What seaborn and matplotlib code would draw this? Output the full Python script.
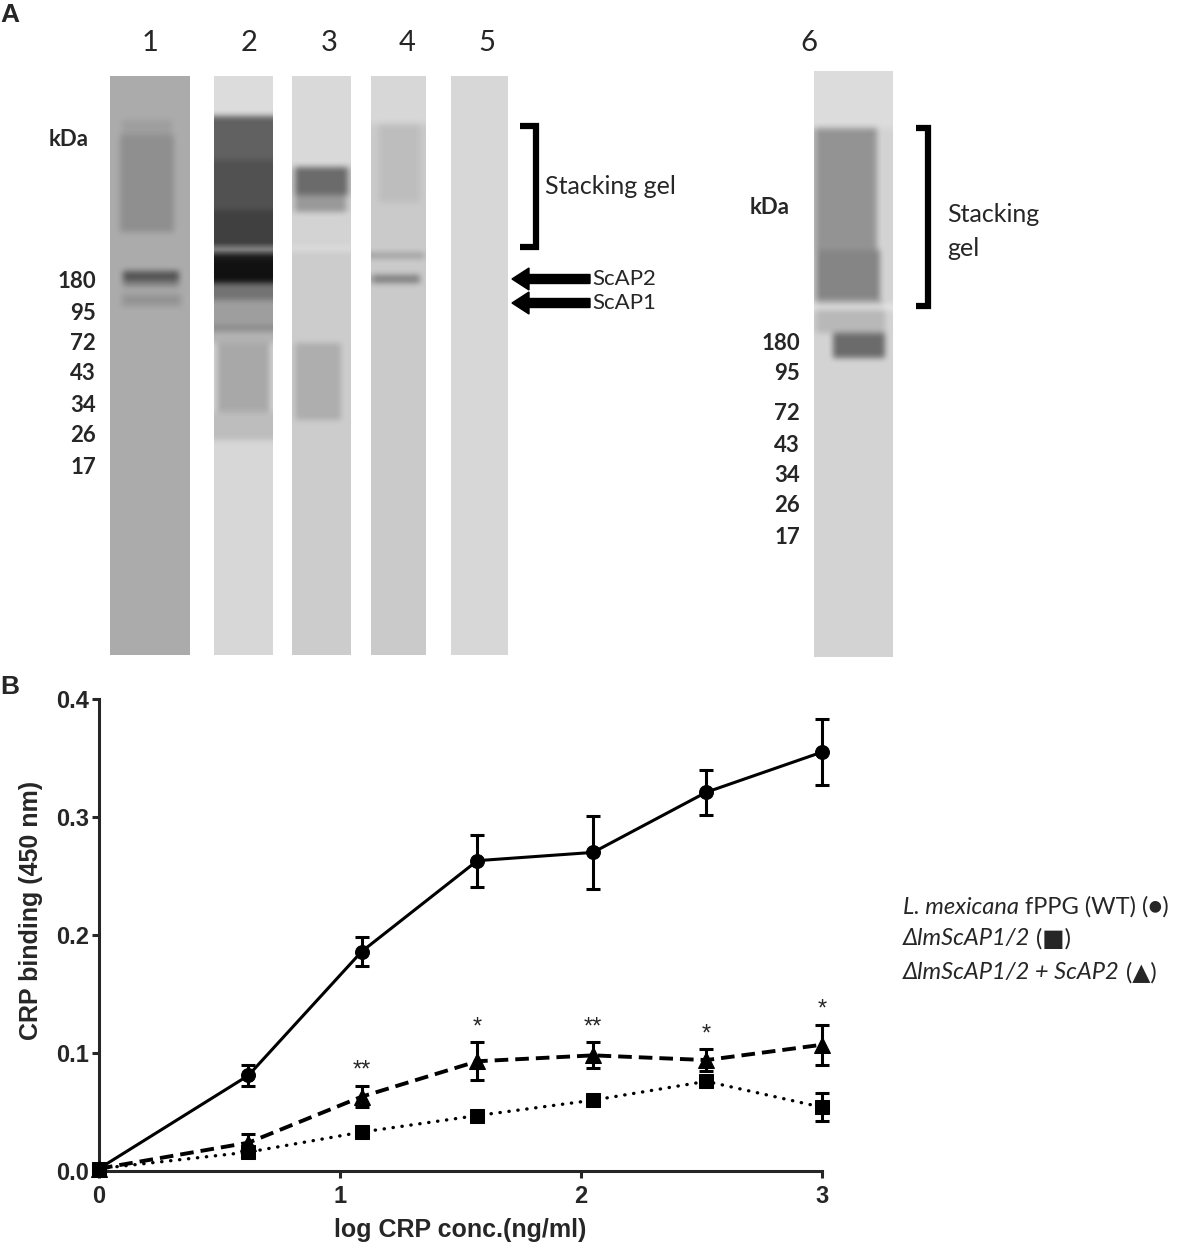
import numpy as np
import pandas as pd
import matplotlib
matplotlib.use("Agg")
import matplotlib.pyplot as plt
import seaborn as sns

# ---- panel B data ----
log_conc = [0, 0.62, 1.09, 1.57, 2.05, 2.52, 3.0]
wt_mean = [0.002, 0.081, 0.186, 0.263, 0.270, 0.321, 0.355]
wt_sem = [0.0, 0.009, 0.012, 0.022, 0.031, 0.019, 0.028]
ko_mean = [0.002, 0.016, 0.033, 0.047, 0.060, 0.076, 0.054]
ko_sem = [0.0, 0.004, 0.002, 0.002, 0.004, 0.003, 0.012]
add_mean = [0.002, 0.024, 0.063, 0.093, 0.098, 0.094, 0.107]
add_sem = [0.0, 0.007, 0.009, 0.016, 0.011, 0.009, 0.017]
signif = ["", "", "**", "*", "**", "*", "*"]

# ---- panel A data: lanes and bands (y in image pixels, gray 0=black 1=white) ----
lane_labels = ["1", "2", "3", "4", "5", "6"]
lane_base = [0.67, 0.84, 0.80, 0.79, 0.84, 0.83]
lane1_bands = [(120, 135, 0.62, 12, 18), (135, 232, 0.56, 10, 16),
               (271, 281, 0.33, 13, 11), (281, 287, 0.52, 13, 11),
               (294, 306, 0.58, 12, 9)]
lane2_bands = [(76, 116, 0.86, 0, 0), (116, 160, 0.38, 0, 0), (160, 210, 0.32, 0, 0),
               (210, 248, 0.25, 0, 0), (248, 251, 0.92, 0, 0), (251, 258, 0.15, 0, 0),
               (258, 283, 0.07, 0, 0), (283, 300, 0.45, 0, 0), (300, 326, 0.62, 0, 0),
               (326, 331, 0.52, 0, 0), (331, 343, 0.70, 0, 0), (343, 412, 0.66, 3, 3),
               (412, 440, 0.74, 0, 0)]
lane3_bands = [(76, 167, 0.85, 0, 0), (167, 195, 0.42, 3, 3), (195, 212, 0.60, 3, 5),
               (212, 248, 0.83, 0, 0), (248, 250, 0.92, 0, 0), (343, 420, 0.68, 3, 10)]
lane4_bands = [(76, 124, 0.84, 0, 0), (124, 202, 0.74, 8, 6),
               (253, 258, 0.60, 0, 2), (275, 283, 0.50, 1, 6)]
lane5_bands = []
lane6_bands = [(71, 128, 0.86, 0, 0), (128, 250, 0.58, 1, 16), (250, 300, 0.52, 2, 13),
               (300, 305, 0.70, 2, 10), (305, 309, 0.93, 0, 0), (309, 333, 0.72, 2, 8),
               (333, 358, 0.42, 19, 8)]
marker_kda = ["180", "95", "72", "43", "34", "26", "17"]

# layout (pixels)
lane_left = [110, 214, 292, 371, 451, 814]
lane_right = [190, 273, 351, 426, 508, 893]
lane_top = [76, 76, 76, 76, 76, 71]
lane_bottom = [655, 655, 655, 655, 655, 657]
lane_num_x = [150, 249, 329, 407, 487, 809]
marker_y_left = [282, 314, 344, 374, 406, 436, 467]
marker_y_right = [343, 374, 414, 445, 476, 506, 537]

sns.set_style("ticks")
plt.rcParams['font.family'] = ['Liberation Sans', 'DejaVu Sans']
cal = ['Lato', 'DejaVu Sans']

W, H = 1202, 1248
fig = plt.figure(figsize=(W / 100, H / 100), dpi=100)


def soften(img, k=3, passes=2):
    # small box blur so the band edges look like a scanned blot
    for _ in range(passes):
        p = np.pad(img, k, mode="edge")
        acc = np.zeros_like(img)
        for d in range(-k, k + 1):
            acc += p[k + d:k + d + img.shape[0], k:k + img.shape[1]]
        img = acc / (2 * k + 1)
        p = np.pad(img, k, mode="edge")
        acc = np.zeros_like(img)
        for d in range(-k, k + 1):
            acc += p[k:k + img.shape[0], k + d:k + d + img.shape[1]]
        img = acc / (2 * k + 1)
    return img


# ---------- panel A (pixel canvas) ----------
ax0 = fig.add_axes([0, 0, 1, 1])
ax0.axis("off")

all_bands = [lane1_bands, lane2_bands, lane3_bands, lane4_bands, lane5_bands, lane6_bands]
for i in range(6):
    l, r = lane_left[i], lane_right[i]
    t, b = lane_top[i], lane_bottom[i]
    img = np.full((b - t, r - l), lane_base[i], dtype=float)
    for y0, y1, g, il, ir in all_bands[i]:
        img[y0 - t:y1 - t, il:(r - l) - ir] = g
    img = soften(img)
    ax0.imshow(img, cmap="gray", vmin=0, vmax=1, extent=(l, r, b, t),
               interpolation="bilinear", aspect="auto")
    ax0.text(lane_num_x[i], 43, lane_labels[i], ha="center", va="center",
             fontsize=21, family=cal)
ax0.set_xlim(0, W)
ax0.set_ylim(H, 0)

ax0.text(0, 15, "A", fontsize=19, fontweight="bold", va="center", ha="left")
ax0.text(0, 687, "B", fontsize=19, fontweight="bold", va="center", ha="left")

ax0.text(69, 140, "kDa", fontsize=16, fontweight="bold", ha="center", va="center", family=cal)
ax0.text(770, 208, "kDa", fontsize=16, fontweight="bold", ha="center", va="center", family=cal)
for lab, yl, yr in zip(marker_kda, marker_y_left, marker_y_right):
    ax0.text(96, yl, lab, fontsize=16, fontweight="bold", ha="right", va="center", family=cal)
    ax0.text(800, yr, lab, fontsize=16, fontweight="bold", ha="right", va="center", family=cal)

# brackets
ax0.plot([520, 536, 536, 520], [126, 126, 247, 247], color="black", lw=4.5,
         solid_joinstyle="miter", solid_capstyle="butt")
ax0.plot([916, 928, 928, 916], [128, 128, 306, 306], color="black", lw=4.5,
         solid_joinstyle="miter", solid_capstyle="butt")
ax0.text(545, 187, "Stacking gel", fontsize=18, ha="left", va="center", family=cal)
ax0.text(947, 215, "Stacking", fontsize=18, ha="left", va="center", family=cal)
ax0.text(947, 249, "gel", fontsize=18, ha="left", va="center", family=cal)

# arrows
for yy, lab in [(279, "ScAP2"), (303, "ScAP1")]:
    ax0.arrow(590, yy, -78, 0, width=9, head_width=22, head_length=17,
              length_includes_head=True, fc="black", ec="black")
    ax0.text(592, yy, lab, fontsize=16, ha="left", va="center", family=cal)

# ---------- panel B ----------
ax = fig.add_axes([99 / W, (H - 1171) / H, 723 / W, 472 / H])
sns.lineplot(x=log_conc, y=wt_mean, ax=ax, color="black", lw=2.2, marker="o",
             markersize=10, markeredgecolor="black", errorbar=None, clip_on=False, zorder=4)
sns.lineplot(x=log_conc, y=add_mean, ax=ax, color="black", lw=2.8, marker="^",
             markersize=11, markeredgecolor="black", errorbar=None, clip_on=False,
             linestyle=(0, (3.5, 1.8)), zorder=4)
sns.lineplot(x=log_conc, y=ko_mean, ax=ax, color="black", lw=2.4, marker="s",
             markersize=10, markeredgecolor="black", errorbar=None, clip_on=False,
             linestyle=(0, (0.1, 2.6)), dash_capstyle="round", zorder=3)
for m, s in [(wt_mean, wt_sem), (add_mean, add_sem), (ko_mean, ko_sem)]:
    ax.errorbar(log_conc, m, yerr=s, fmt="none", ecolor="black", elinewidth=2.2,
                capsize=5, capthick=2.2, clip_on=False, zorder=5)
for xv, mv, sv, st in zip(log_conc, add_mean, add_sem, signif):
    if st:
        ax.text(xv, mv + sv + 0.013, st, ha="center", va="center", fontsize=17)

ax.set_xlim(0, 3)
ax.set_ylim(0, 0.4)
ax.set_xticks([0, 1, 2, 3])
ax.set_xticklabels(["0", "1", "2", "3"])
ax.set_yticks([0, 0.1, 0.2, 0.3, 0.4])
ax.set_yticklabels(["0.0", "0.1", "0.2", "0.3", "0.4"])
sns.despine(ax=ax)
for sp in ["left", "bottom"]:
    ax.spines[sp].set_linewidth(2.2)
ax.tick_params(axis="both", width=2.2, length=5, labelsize=17)
ax.tick_params(axis="y", pad=2)
ax.tick_params(axis="x", pad=5)
for tl in ax.get_xticklabels() + ax.get_yticklabels():
    tl.set_fontweight("bold")
ax.set_xlabel("log CRP conc.(ng/ml)", fontsize=18, fontweight="bold")
ax.set_ylabel("CRP binding (450 nm)", fontsize=18, fontweight="bold")
ax.xaxis.set_label_coords(0.5, -0.1)
ax.yaxis.set_label_coords(-0.077, 0.553)

# legend as text lines (italic gene names)
legend_rows = [
    [("L. mexicana", "italic"), (" fPPG (WT) (\u25cf)", "normal")],
    [("\u0394lmScAP1/2", "italic"), (" (\u25a0)", "normal")],
    [("\u0394lmScAP1/2 + ScAP2", "italic"), (" (\u25b2)", "normal")],
]
legend_y = [907, 939, 973]
renderer = fig.canvas.get_renderer()
for row, yy in zip(legend_rows, legend_y):
    xx = 903
    for txt, sty in row:
        tt = ax0.text(xx, yy, txt, fontsize=17, style=sty, ha="left", va="center", family=cal)
        bb = tt.get_window_extent(renderer=renderer)
        xx += bb.width

fig.savefig("out.png", dpi=100)
